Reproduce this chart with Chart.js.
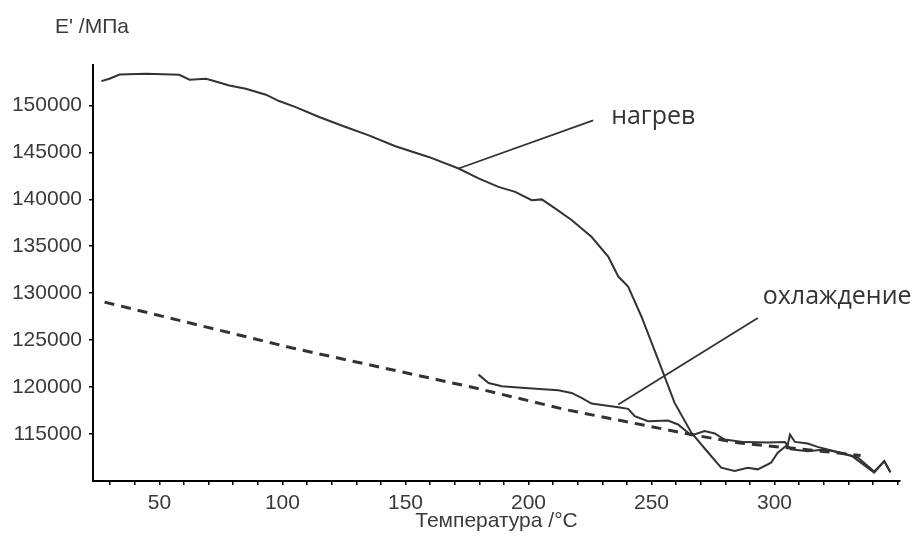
<!DOCTYPE html>
<html>
<head>
<meta charset="utf-8">
<script src="https://cdn.jsdelivr.net/npm/chart.js@4/dist/chart.umd.min.js"></script>
<style>
  body { margin: 0; background: #fff; }
</style>
</head>
<body>
<canvas id="chart" width="919" height="537"></canvas>
<script>
// heating curve (нагрев)
const heatT = [26.4, 29.7, 33.8, 44.6, 58.1, 62.2, 68.9, 71.5, 78.4, 85.1, 93.3, 98.6, 105.4, 114.9,
  125.7, 135.1, 145.9, 159.4, 171.6, 179.7, 187.8, 194.6, 201.3, 205.4, 210.8, 217.5, 225.6, 232.4,
  236.5, 240.5, 245.9, 252.7, 259.4, 266.2, 273.1, 278.3, 283.8, 289.1, 293.2, 298.6, 301.3, 305.4,
  306.3, 308.3, 313.5, 317.5, 325.6, 331.7, 340.5, 344.6, 347.1];
const heatE = [152580, 152840, 153290, 153370, 153260, 152730, 152840, 152650, 152120, 151770, 151140,
  150460, 149820, 148760, 147700, 146810, 145650, 144510, 143280, 142220, 141320, 140790, 139910,
  139990, 139030, 137790, 136010, 133890, 131770, 130710, 127520, 122920, 118320, 115140, 113010,
  111420, 111060, 111420, 111240, 111950, 113010, 113890, 114940, 114160, 113990, 113630, 113090,
  112620, 110890, 112120, 110920];

// cooling curve (охлаждение)
const coolT = [179.7, 183.8, 189.2, 198.6, 212.1, 217.5, 221.6, 225.6, 236.5, 240.5, 243.2, 248.6,
  256.7, 260.8, 266.2, 271.6, 275.7, 279.7, 287.8, 297.3, 304.2, 306.6, 313.5, 320.3, 326.9, 333.8,
  340.5, 344.6, 347.1];
const coolE = [121330, 120440, 120080, 119910, 119660, 119380, 118850, 118250, 117850, 117680, 116900,
  116370, 116440, 116020, 114850, 115310, 115060, 114420, 114140, 114110, 114140, 113370, 113180,
  113360, 113010, 112510, 111020, 112090, 110920];

// dashed trend line
const dashT = [27.7, 104, 178.4, 214.9, 266.1, 285.1, 318.8, 335];
const dashE = [129050, 124160, 119910, 117610, 114950, 114070, 113180, 112720];

// leader lines to labels
const heatLeadT = [171.6, 226.3];
const heatLeadE = [143280, 148410];
const coolLeadT = [236.5, 293.2];
const coolLeadE = [118140, 127350];

const labels = [
  { text: 'нагрев', t: 233.6, e: 148730 },
  { text: 'охлаждение', t: 295.2, e: 129610 },
];

const xTickValues = [30, 40, 50, 60, 70, 80, 90, 100, 110, 120, 130, 140, 150, 160, 170, 180, 190,
  200, 210, 220, 230, 240, 250, 260, 270, 280, 290, 300, 310, 320, 330, 340, 350];
const xTickLabels = [50, 100, 150, 200, 250, 300];
const yTickValues = [115000, 120000, 125000, 130000, 135000, 140000, 145000, 150000];
const yTitle = "E' /МПа";
const xTitle = 'Температура /°C';

const ink = '#333333';
const tickFont = { family: '"Liberation Sans", Arial, sans-serif', size: 21 };

function pts(xs, ys) {
  return xs.map((x, i) => ({ x, y: ys[i] }));
}

function curve(xs, ys, extra) {
  return Object.assign({
    data: pts(xs, ys),
    borderColor: ink,
    borderWidth: 2,
    pointRadius: 0,
    tension: 0,
    fill: false,
  }, extra || {});
}

const textPlugin = {
  id: 'texts',
  afterDraw(chart) {
    const ctx = chart.ctx;
    const { x, y } = chart.scales;
    const area = chart.chartArea;
    ctx.save();
    ctx.fillStyle = '#3a3a3a';
    ctx.font = '21px "Liberation Sans", Arial, sans-serif';
    ctx.textBaseline = 'middle';
    ctx.textAlign = 'left';
    ctx.fillText(yTitle, 55, 27);
    ctx.textAlign = 'center';
    ctx.fillText(xTitle, (area.left + area.right) / 2, 521);

    ctx.font = '25px "Open Sans", sans-serif';
    ctx.fillStyle = '#333';
    ctx.textAlign = 'left';
    labels.forEach(l => {
      ctx.fillText(l.text, x.getPixelForValue(l.t), y.getPixelForValue(l.e));
    });
    ctx.restore();
  }
};

new Chart(document.getElementById('chart'), {
  type: 'line',
  data: {
    datasets: [
      curve(heatT, heatE),
      curve(coolT, coolE),
      curve(dashT, dashE, { borderWidth: 3, borderDash: [10, 7] }),
      curve(heatLeadT, heatLeadE, { borderWidth: 1.8 }),
      curve(coolLeadT, coolLeadE, { borderWidth: 1.8 }),
    ],
  },
  options: {
    responsive: false,
    animation: false,
    layout: { padding: { top: 65, right: 19, left: 0, bottom: 0 } },
    plugins: {
      legend: { display: false },
      tooltip: { enabled: false },
    },
    scales: {
      x: {
        type: 'linear',
        min: 23,
        max: 351,
        grid: { drawOnChartArea: false, tickLength: 4, color: '#000', lineWidth: 1.5 },
        border: { color: '#000', width: 2 },
        ticks: {
          autoSkip: false,
          maxRotation: 0,
          padding: 6,
          color: '#3a3a3a',
          font: tickFont,
          callback: v => xTickLabels.includes(v) ? String(v) : '',
        },
        afterBuildTicks: s => { s.ticks = xTickValues.map(v => ({ value: v })); },
        afterFit: s => { s.height = 56; },
      },
      y: {
        type: 'linear',
        min: 110000,
        max: 154300,
        grid: { drawOnChartArea: false, tickLength: 4, color: '#000', lineWidth: 1.5 },
        border: { color: '#000', width: 2 },
        ticks: {
          autoSkip: false,
          padding: 7,
          color: '#3a3a3a',
          font: tickFont,
          callback: v => String(v),
        },
        afterBuildTicks: s => { s.ticks = yTickValues.map(v => ({ value: v })); },
        afterFit: s => { s.width = 93; },
      },
    },
  },
  plugins: [textPlugin],
});
</script>
</body>
</html>
